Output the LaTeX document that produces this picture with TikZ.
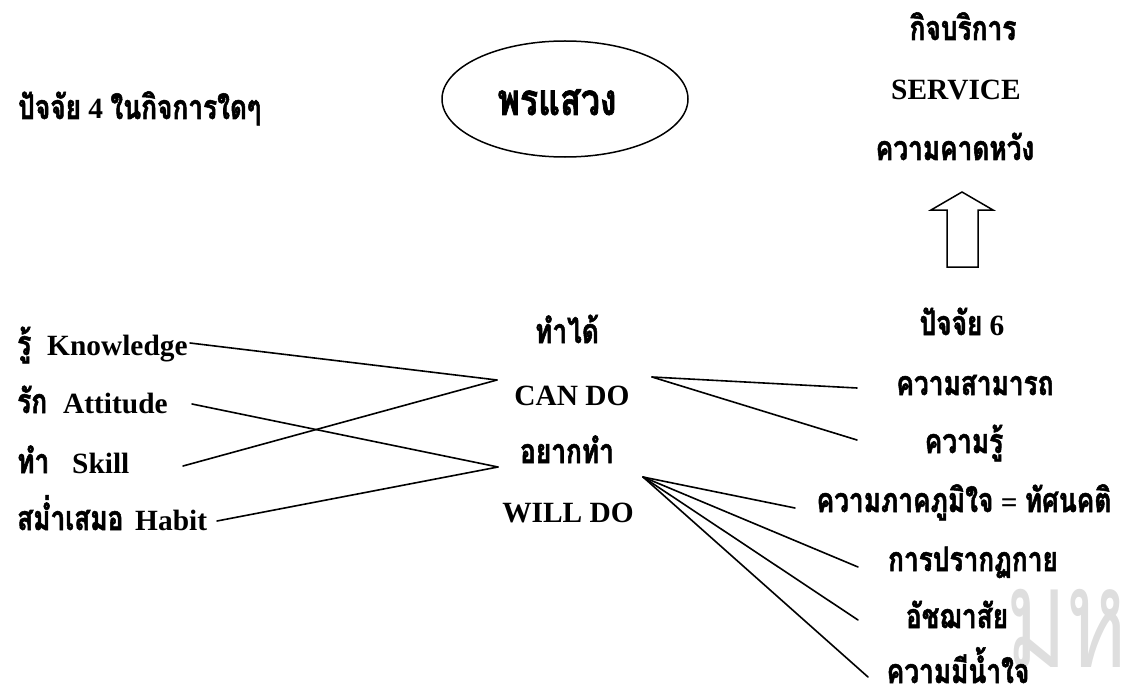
\documentclass[tikz,border=0pt]{standalone}
\usepackage{fontspec}
\setmainfont{Liberation Serif}
\newfontfamily\thai[Script=Thai, FakeStretch=0.775, FakeBold=1.5]{Loma}
\newfontfamily\thaiwm[Script=Thai, FakeStretch=0.66]{Loma}
\newcommand\tx[1]{{\thai\fontsize{34}{38}\selectfont #1}}
\usetikzlibrary{shapes.geometric}
\begin{document}
\begin{tikzpicture}[x=1bp,y=-1bp,
  lbl/.style={inner sep=0pt, font=\bfseries\fontsize{29.5}{34}\selectfont},
  conn/.style={line width=1.6bp, line cap=round}]
\useasboundingbox (0,0) rectangle (1121,697);
% watermark
\node[inner sep=0pt, anchor=base west, text=black!13, font=\thaiwm\fontsize{140}{150}\selectfont] (wm) at (1006,667) {มหา};
% top left
\node[lbl, anchor=base west] (p4) at (18,119) {\tx{ปัจจัย} 4 \tx{ในกิจการใดๆ}};
% ellipse
\node[draw, ellipse, line width=1.5bp, minimum width=246bp, minimum height=116bp, inner sep=0pt] (ell) at (565,99) {};
\node[lbl, anchor=base] (prs) at (557,115) {{\thai\fontsize{44}{50}\selectfont พรแสวง}};
% top right
\node[lbl, anchor=base] (kb) at (963,40) {\tx{กิจบริการ}};
\node[lbl, anchor=base] (svc) at (956,100) {SERVICE};
\node[lbl, anchor=base] (kk) at (955,160) {\tx{ความคาดหวัง}};
\draw[line width=1.5bp, line join=miter] (947,267) -- (947,210) -- (931,210) -- (962,192) -- (993,210) -- (978,210) -- (978,267) -- cycle;
% left column
\node[lbl, anchor=base west] (know) at (17,355) {\makebox[30bp][l]{\tx{รู้}}Knowledge};
\node[lbl, anchor=base west] (att) at (17,413) {\makebox[46bp][l]{\tx{รัก}}Attitude};
\node[lbl, anchor=base west] (skill) at (17,473) {\makebox[55bp][l]{\tx{ทำ}}Skill};
\node[lbl, anchor=base west] (habit) at (17,530) {\makebox[118bp][l]{\tx{สม่ำเสมอ}}Habit};
% centre column
\node[lbl, anchor=base] (tdai) at (567,343) {\tx{ทำได้}};
\node[lbl, anchor=base] (cando) at (572,405) {CAN DO};
\node[lbl, anchor=base] (yak) at (567,463) {\tx{อยากทำ}};
\node[lbl, anchor=base] (willdo) at (568,522) {WILL DO};
% right column
\node[lbl, anchor=base] (p6) at (962,335) {\tx{ปัจจัย} 6};
\node[lbl, anchor=base] (abil) at (975,395) {\tx{ความสามารถ}};
\node[lbl, anchor=base] (know2) at (964,453) {\tx{ความรู้}};
\node[lbl, anchor=base] (pride) at (964,512) {\tx{ความภาคภูมิใจ} = \tx{ทัศนคติ}};
\node[lbl, anchor=base] (appear) at (973,571) {\tx{การปรากฏกาย}};
\node[lbl, anchor=base] (manner) at (957,628) {\tx{อัชฌาสัย}};
\node[lbl, anchor=base] (gener) at (958,683) {\tx{ความมีน้ำใจ}};
% connector end points
\coordinate (knowR) at (190,343);
\coordinate (attR) at (192,404);
\coordinate (skillR) at (183,466);
\coordinate (habitR) at (217,521);
\coordinate (canL) at (497,380);
\coordinate (willL) at (498,467);
\coordinate (canR) at (652,377);
\coordinate (willR) at (643,477);
\coordinate (abilL) at (857,388);
\coordinate (know2L) at (857,440);
\coordinate (prideL) at (795,508);
\coordinate (appearL) at (858,567);
\coordinate (mannerL) at (858,620);
\coordinate (generL) at (868,677);
% connectors
\draw[conn] (knowR) -- (canL);
\draw[conn] (skillR) -- (canL);
\draw[conn] (attR) -- (willL);
\draw[conn] (habitR) -- (willL);
\draw[conn] (canR) -- (abilL);
\draw[conn] (canR) -- (know2L);
\draw[conn] (willR) -- (prideL);
\draw[conn] (willR) -- (appearL);
\draw[conn] (willR) -- (mannerL);
\draw[conn] (willR) -- (generL);
\end{tikzpicture}
\end{document}
